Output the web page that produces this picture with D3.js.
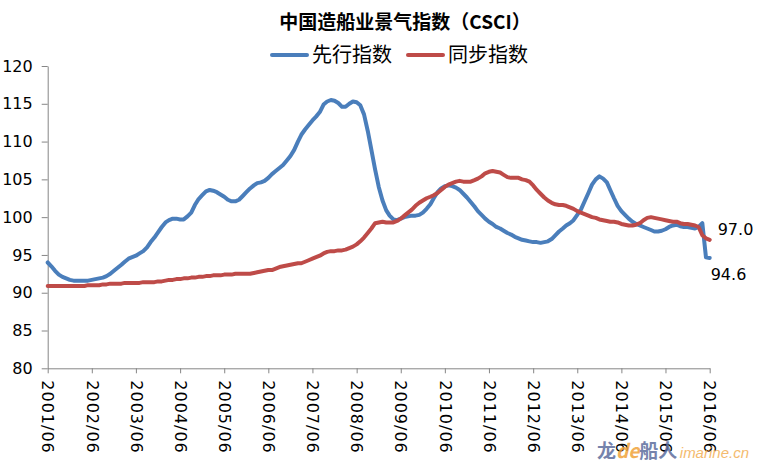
<!DOCTYPE html>
<html>
<head>
<meta charset="utf-8">
<script src="https://cdn.jsdelivr.net/npm/d3@7"></script>
<style>
  body { margin: 0; background: #fff; }
  svg { display: block; }
  .tick text { font-family: "DejaVu Sans", sans-serif; font-size: 16px; fill: #000; }
</style>
</head>
<body>
<svg id="chart" width="757" height="466"></svg>
<script>
// monthly values, 2001/06 .. 2016/06
let leading = [
  94.0, 93.5, 92.9, 92.4, 92.1, 91.9, 91.7, 91.6, 91.6, 91.6, 91.6, 91.6,
  91.7, 91.8, 91.9, 92.0, 92.2, 92.5, 92.9, 93.3, 93.7, 94.1, 94.5, 94.7,
  94.9, 95.2, 95.5, 96.0, 96.7, 97.3, 98.0, 98.7, 99.3, 99.6, 99.8, 99.8,
  99.7, 99.7, 100.1, 100.6, 101.6, 102.4, 102.9, 103.4, 103.6, 103.5, 103.3, 103.0,
  102.7, 102.3, 102.1, 102.1, 102.3, 102.8, 103.3, 103.8, 104.2, 104.5, 104.6, 104.8,
  105.2, 105.7, 106.1, 106.5, 106.9, 107.5, 108.1, 108.9, 110.0, 110.9, 111.6, 112.2,
  112.8, 113.3, 113.9, 114.9, 115.3, 115.5, 115.4, 115.1, 114.6, 114.6, 115.0, 115.3,
  115.2, 114.8, 113.6, 111.4, 108.9, 106.3, 104.0, 102.2, 100.9, 100.2, 99.7, 99.6,
  99.8, 100.0, 100.1, 100.2, 100.2, 100.3, 100.6, 101.1, 101.7, 102.5, 103.3, 103.8,
  104.1, 104.2, 104.1, 103.9, 103.6, 103.1, 102.6, 102.0, 101.4, 100.8, 100.3, 99.8,
  99.4, 99.1, 98.7, 98.5, 98.2, 97.9, 97.7, 97.4, 97.2, 97.0, 96.9, 96.8,
  96.7, 96.7, 96.6, 96.7, 96.8, 97.1, 97.6, 98.1, 98.5, 98.9, 99.2, 99.6,
  100.3, 101.0, 102.1, 103.2, 104.3, 105.0, 105.4, 105.1, 104.6, 103.6, 102.5, 101.5,
  100.8, 100.3, 99.8, 99.4, 99.1, 98.9, 98.7, 98.5, 98.3, 98.1, 98.1, 98.2,
  98.4, 98.7, 98.9, 99.0, 98.8, 98.7, 98.7, 98.6, 98.5, 98.7, 99.2, 94.7,
  94.6
];

let coincident = [
  90.9, 90.9, 90.9, 90.9, 90.9, 90.9, 90.9, 90.9, 90.9, 90.9, 90.9, 91.0,
  91.0, 91.0, 91.0, 91.1, 91.1, 91.2, 91.2, 91.2, 91.2, 91.3, 91.3, 91.3,
  91.3, 91.3, 91.4, 91.4, 91.4, 91.4, 91.5, 91.5, 91.6, 91.7, 91.7, 91.8,
  91.8, 91.9, 91.9, 92.0, 92.0, 92.1, 92.1, 92.2, 92.2, 92.3, 92.3, 92.3,
  92.4, 92.4, 92.4, 92.5, 92.5, 92.5, 92.5, 92.5, 92.6, 92.7, 92.8, 92.9,
  93.0, 93.0, 93.2, 93.4, 93.5, 93.6, 93.7, 93.8, 93.9, 93.9, 94.1, 94.3,
  94.5, 94.7, 94.9, 95.2, 95.4, 95.5, 95.5, 95.6, 95.6, 95.7, 95.9, 96.1,
  96.4, 96.8, 97.3, 97.9, 98.5, 99.2, 99.3, 99.4, 99.3, 99.3, 99.3, 99.5,
  99.8, 100.2, 100.6, 101.0, 101.5, 101.9, 102.2, 102.5, 102.7, 102.9, 103.2, 103.6,
  104.0, 104.3, 104.5, 104.7, 104.8, 104.7, 104.7, 104.7, 104.9, 105.1, 105.4, 105.8,
  106.0, 106.1, 106.0, 105.9, 105.6, 105.3, 105.2, 105.2, 105.2, 105.0, 104.9, 104.7,
  104.2, 103.6, 103.1, 102.6, 102.2, 101.9, 101.7, 101.6, 101.6, 101.5, 101.3, 101.1,
  100.8, 100.6, 100.4, 100.2, 100.0, 99.9, 99.7, 99.6, 99.5, 99.4, 99.4, 99.3,
  99.1, 99.0, 98.9, 98.9, 99.0, 99.2, 99.6, 99.9, 100.0, 99.9, 99.8, 99.7,
  99.6, 99.5, 99.4, 99.4, 99.2, 99.1, 99.1, 99.0, 98.9, 98.7, 97.6, 97.2,
  97.0
];

let yTicks = [80, 85, 90, 95, 100, 105, 110, 115, 120];
let seriesNames = ["先行指数", "同步指数"];
let colours = ["#4a7ebb", "#be4b48"];
let title = "中国造船业景气指数（CSCI）";

let months = d3.timeMonth.range(new Date(2001, 5, 1), new Date(2016, 6, 1));
let yearTicks = months.filter(d => d.getMonth() === 5);

let margin = {"left": 47.7, "top": 66, "bottom": 97.7, "right": 47.3};
let width = 757;
let height = 466;

let svg = d3.select("#chart");

let x = d3.scaleTime()
	.domain(d3.extent(months))
	.range([margin.left, width - margin.right]);

let y = d3.scaleLinear()
	.domain([80, 120])
	.range([height - margin.bottom, margin.top]);

// y axis
svg.append("g")
	.attr("transform", `translate(${margin.left},0)`)
	.call(d3.axisLeft(y).tickValues(yTicks).tickSize(6).tickPadding(9).tickSizeOuter(0))
	.call(g => g.selectAll(".domain, .tick line").attr("stroke", "#868686"));

// x axis
svg.append("g")
	.attr("transform", `translate(0,${height - margin.bottom})`)
	.call(d3.axisBottom(x).tickValues(yearTicks).tickFormat(d3.timeFormat("%Y/%m")).tickSize(5).tickSizeOuter(0))
	.call(g => g.selectAll(".domain, .tick line").attr("stroke", "#868686"))
	.call(g => g.selectAll(".tick text")
		.attr("text-anchor", "start")
		.attr("transform", "rotate(90)")
		.attr("letter-spacing", 1)
		.attr("x", 12)
		.attr("y", 0)
		.attr("dy", "0.36em"));

const line = d3.line()
	.x((d, i) => x(months[i]))
	.y(d => y(d));

svg.append("g")
	.attr("fill", "none")
	.attr("stroke-width", 4)
	.attr("stroke-linejoin", "round")
	.attr("stroke-linecap", "round")
	.selectAll("path")
	.data([leading, coincident])
	.join("path")
	.attr("stroke", (d, i) => colours[i])
	.attr("d", d => line(d));

// end value labels
let last = months.length - 1;
svg.append("text")
	.attr("x", x(months[last]) + 8)
	.attr("y", y(coincident[last]) - 10)
	.attr("dy", "0.35em")
	.attr("font-family", "DejaVu Sans, sans-serif")
	.attr("font-size", 16)
	.text(coincident[last].toFixed(1));
svg.append("text")
	.attr("x", x(months[last]) + 1)
	.attr("y", y(leading[last]) + 16)
	.attr("dy", "0.35em")
	.attr("font-family", "DejaVu Sans, sans-serif")
	.attr("font-size", 16)
	.text(leading[last].toFixed(1));

// title
svg.append("text")
	.attr("x", 405)
	.attr("y", 22)
	.attr("dy", "0.35em")
	.attr("text-anchor", "middle")
	.attr("font-family", "Noto Sans CJK SC, sans-serif")
	.attr("font-weight", "bold")
	.attr("font-size", 19)
	.text(title);

// legend
let legend = svg.append("g")
	.selectAll("g")
	.data(seriesNames)
	.join("g")
	.attr("transform", (d, i) => `translate(${272 + i * 136},55)`);
legend.append("line")
	.attr("x1", 0).attr("x2", 35)
	.attr("stroke", (d, i) => colours[i])
	.attr("stroke-width", 4)
	.attr("stroke-linecap", "round");
legend.append("text")
	.attr("x", 40)
	.attr("dy", "0.35em")
	.attr("font-family", "Noto Sans CJK SC, sans-serif")
	.attr("font-size", 20)
	.text(d => d);

// watermark
let wm = svg.append("g").attr("opacity", 0.85);
let wmCn = wm.append("text")
	.attr("x", 597)
	.attr("y", 458)
	.attr("font-family", "Noto Sans CJK SC, sans-serif")
	.attr("font-size", 19)
	.attr("font-weight", "bold");
wmCn.append("tspan").attr("fill", "#5d6e9e").text("龙");
wmCn.append("tspan").attr("fill", "#f0a33a").attr("font-style", "italic").text("de");
wmCn.append("tspan").attr("fill", "#5d6e9e").text("船人");
wm.append("text")
	.attr("x", 749)
	.attr("y", 458)
	.attr("text-anchor", "end")
	.attr("font-family", "Liberation Sans, sans-serif")
	.attr("font-style", "italic")
	.attr("font-size", 15)
	.attr("fill", "#f3b055")
	.text("imarine.cn");
</script>
</body>
</html>
